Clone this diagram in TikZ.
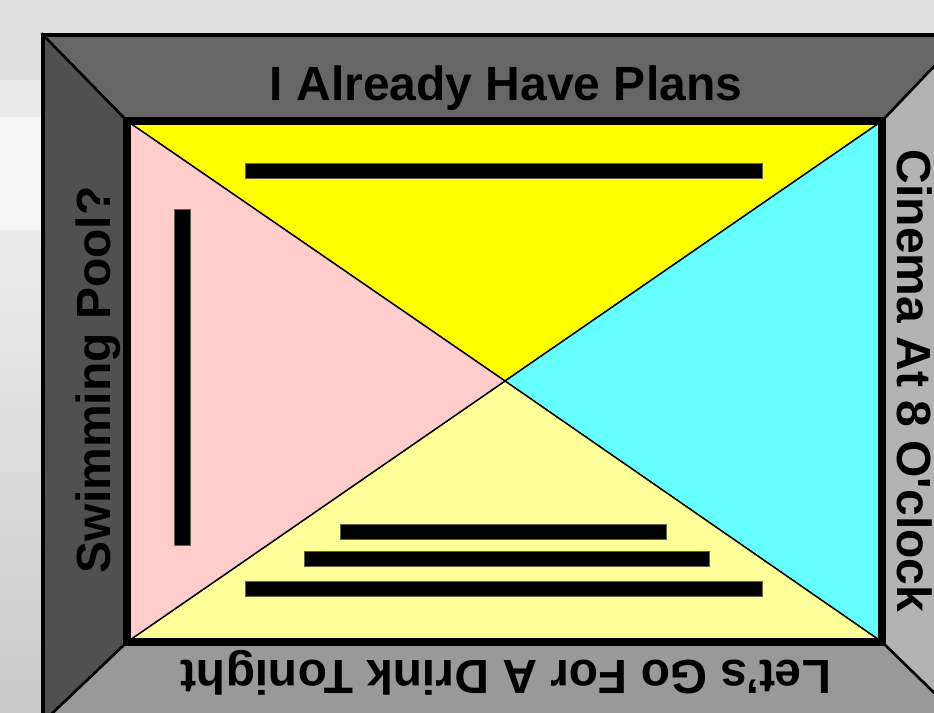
\documentclass[tikz,border=0pt]{standalone}
\usepackage{fontspec}
\setmainfont{Liberation Sans}
\newcommand{\straightquote}{{\addfontfeatures{Ligatures=TeXOff}\symbol{39}}}
\begin{document}
\begin{tikzpicture}[x=1pt,y=-1pt,
  lab/.style={font=\fontsize{48}{50}\selectfont\bfseries, text=black, inner sep=0pt, outer sep=0pt},
  tri/.style={draw=black, line width=1.4pt, line join=miter},
  panel/.style={draw=black, line width=2.5pt, line join=miter},
  barbox/.style={fill=black, draw=black!70!yellow, line width=0.6pt}]
\definecolor{bgA}{HTML}{E0E0E0}
\definecolor{topP}{HTML}{666666}
\definecolor{leftP}{HTML}{505050}
\definecolor{rightP}{HTML}{B3B3B3}
\definecolor{botP}{HTML}{999999}
\definecolor{yelA}{HTML}{FFFF00}
\definecolor{pinkA}{HTML}{FFCCCC}
\definecolor{cyanA}{HTML}{66FFFF}
\definecolor{yelB}{HTML}{FFFF99}
\useasboundingbox (0,0) rectangle (934,712);
\begin{scope}
\clip (0,0) rectangle (934,712);
% background
\fill[bgA] (0,0) rectangle (934,712);
\fill[bgA!60!white] (0,80) rectangle (43,117);
\fill[bgA!30!white] (0,117) rectangle (43,230);
\shade[top color=bgA!60!white, bottom color=bgA!90!black] (0,230) rectangle (43,712);
% frame coordinates
\coordinate (o1) at (43,35);
\coordinate (o2) at (964,35);
\coordinate (o3) at (964,722);
\coordinate (o4) at (43,722);
\coordinate (i1) at (127,121);
\coordinate (i2) at (882,121);
\coordinate (i3) at (882,642);
\coordinate (i4) at (127,642);
\coordinate (c) at (505,381);
% frame panels
\filldraw[panel, fill=topP] (o1) -- (o2) -- (i2) -- (i1) -- cycle;
\filldraw[panel, fill=rightP] (o2) -- (o3) -- (i3) -- (i2) -- cycle;
\filldraw[panel, fill=botP] (o3) -- (o4) -- (i4) -- (i3) -- cycle;
\filldraw[panel, fill=leftP] (o4) -- (o1) -- (i1) -- (i4) -- cycle;
\draw[line width=3.5pt, line join=miter] (o1) rectangle (o3);
% triangles
\filldraw[tri, fill=yelA] (i1) -- (i2) -- (c) -- cycle;
\filldraw[tri, fill=cyanA] (i2) -- (i3) -- (c) -- cycle;
\filldraw[tri, fill=yelB] (i3) -- (i4) -- (c) -- cycle;
\filldraw[tri, fill=pinkA] (i4) -- (i1) -- (c) -- cycle;
\draw[line width=8pt, line join=miter] (i1) rectangle (i3);
% bars
\filldraw[barbox] (245,163) rectangle (762,178);
\filldraw[barbox] (174,209) rectangle (190,545);
\filldraw[barbox] (340,524) rectangle (666,539);
\filldraw[barbox] (304,551) rectangle (709,566);
\filldraw[barbox] (245,581) rectangle (762,596);
% labels
\node[lab, anchor=base] (ttop) at (506,100) {I Already Have Plans};
\node[lab, anchor=base, rotate=90] (tleft) at (110,380) {Swimming Pool?};
\node[lab, anchor=base, rotate=-90] (tright) at (897,381) {Cinema At 8 O\straightquote clock};
\node[lab, anchor=base, rotate=180] (tbot) at (506,660) {Let’s Go For A Drink Tonight};
\end{scope}
\end{tikzpicture}
\end{document}
